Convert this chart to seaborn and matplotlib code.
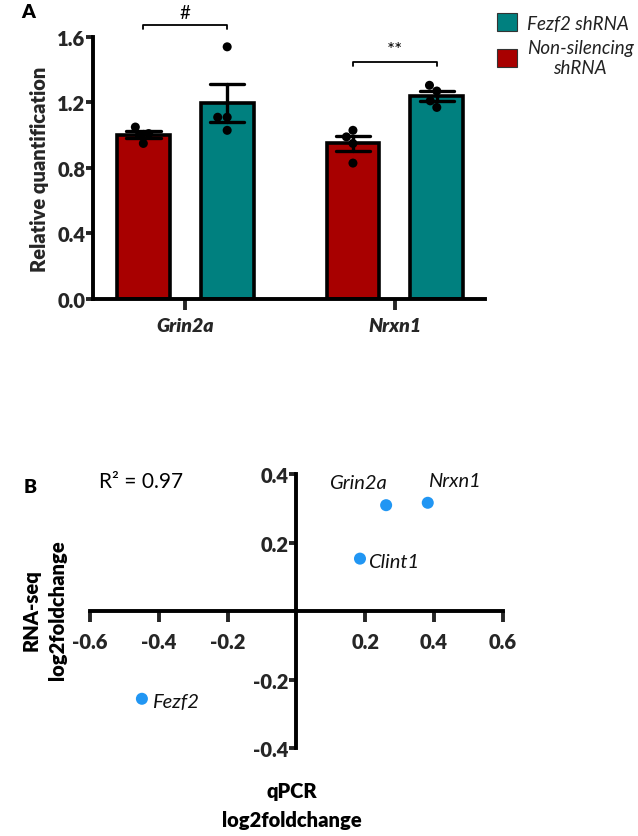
import numpy as np
import pandas as pd
import matplotlib
matplotlib.use("Agg")
import matplotlib.pyplot as plt
from matplotlib.patches import Patch
import seaborn as sns

# Panel A: qPCR relative quantification (individual replicates)
genes = ["Grin2a", "Nrxn1"]
groups = ["Non-silencing shRNA", "Fezf2 shRNA"]
grin2a_ns = [1.05, 1.01, 1.00, 0.95]
grin2a_fezf2 = [1.54, 1.11, 1.11, 1.03]
nrxn1_ns = [1.03, 0.99, 0.95, 0.83]
nrxn1_fezf2 = [1.305, 1.27, 1.21, 1.17]
significance = ["#", "**"]
bar_colors = ["#A80000", "#00807F"]

# Panel B: qPCR vs RNA-seq log2 fold change
genes_b = ["Grin2a", "Nrxn1", "Clint1", "Fezf2"]
qpcr_lfc = [0.261, 0.382, 0.185, -0.449]
rnaseq_lfc = [0.309, 0.316, 0.153, -0.256]
r_squared = 0.97

sns.set_theme(style="white")
plt.rcParams["font.family"] = ["Lato", "DejaVu Sans"]
plt.rcParams["text.color"] = "black"

BOLD = "heavy"
TICK_FS = 14.5

rows = []
for gene, grp, vals in [("Grin2a", groups[0], grin2a_ns), ("Grin2a", groups[1], grin2a_fezf2),
                        ("Nrxn1", groups[0], nrxn1_ns), ("Nrxn1", groups[1], nrxn1_fezf2)]:
    for v in vals:
        rows.append({"gene": gene, "group": grp, "value": v})
df = pd.DataFrame(rows)

fig = plt.figure(figsize=(6.38, 8.37), dpi=100)

# ---------- Panel A ----------
axA = fig.add_axes([0.1458, 0.6416, 0.6144, 0.3130])
sns.barplot(data=df, x="gene", y="value", hue="group", order=genes, hue_order=groups,
            palette=bar_colors, errorbar="se", capsize=0.33, width=0.8, gap=0.37,
            edgecolor="black", linewidth=2.6, saturation=1,
            err_kws={"color": "black", "linewidth": 2.4}, legend=False, ax=axA)
sns.swarmplot(data=df, x="gene", y="value", hue="group", order=genes, hue_order=groups,
              dodge=True, palette=["black", "black"], size=6.5, legend=False, zorder=5, ax=axA)

axA.set_ylim(0, 1.6)
axA.set_xlim(-0.44, 1.43)
axA.set_yticks([0, 0.4, 0.8, 1.2, 1.6])
axA.set_yticklabels(["0.0", "0.4", "0.8", "1.2", "1.6"], fontweight=BOLD, fontsize=TICK_FS)
axA.set_xticks([0, 1])
axA.set_xticklabels(genes, fontweight=BOLD, fontstyle="italic", fontsize=14)
axA.set_xlabel("")
axA.set_ylabel("Relative quantification", fontweight=BOLD, fontsize=14.5, labelpad=6)
for side in ["top", "right"]:
    axA.spines[side].set_visible(False)
for side in ["left", "bottom"]:
    axA.spines[side].set_linewidth(2.8)
    axA.spines[side].set_color("black")
axA.tick_params(axis="y", direction="out", length=5, width=2.8, left=True, pad=0.5)
axA.tick_params(axis="x", direction="out", length=8, width=2.8, bottom=True, pad=5)

# significance brackets between the two bars of each gene
ns_bars = axA.containers[0]
fz_bars = axA.containers[1]
bracket_y = [1.675, 1.445]
for i, sym in enumerate(significance):
    x0 = ns_bars[i].get_x() + ns_bars[i].get_width() / 2
    x1 = fz_bars[i].get_x() + fz_bars[i].get_width() / 2
    y = bracket_y[i]
    axA.plot([x0, x0, x1, x1], [y - 0.025, y, y, y - 0.025], color="black", lw=1.3, clip_on=False)
    axA.text((x0 + x1) / 2, y + 0.025, sym, ha="center", va="bottom", fontsize=13.5, clip_on=False)

handles = [Patch(facecolor=bar_colors[1], edgecolor="#333333", linewidth=0.8),
           Patch(facecolor=bar_colors[0], edgecolor="#333333", linewidth=0.8)]
leg = fig.legend(handles, ["Fezf2 shRNA", "Non-silencing\nshRNA"], loc="upper left",
                 bbox_to_anchor=(0.752, 1.003), frameon=False, handlelength=1.1,
                 handleheight=1.1, handletextpad=0.5, labelspacing=0.4,
                 prop={"style": "italic", "size": 13.5})
for t in leg.get_texts():
    t.set_multialignment("center")
    t.set_color("#222222")

fig.text(28 / 638, 1 - 12 / 837, "A", fontweight=BOLD, fontsize=14, ha="center", va="center")

# ---------- Panel B ----------
axB = fig.add_axes([0.141, 0.105, 0.647, 0.3275])
sns.scatterplot(x=qpcr_lfc, y=rnaseq_lfc, color="#2196F3", s=75, edgecolor="none", ax=axB)
axB.set_xlim(-0.6, 0.6)
axB.set_ylim(-0.4, 0.4)
axB.spines["left"].set_position(("data", 0))
axB.spines["bottom"].set_position(("data", 0))
for side in ["top", "right"]:
    axB.spines[side].set_visible(False)
for side in ["left", "bottom"]:
    axB.spines[side].set_linewidth(2.8)
    axB.spines[side].set_color("black")
axB.set_xticks([-0.6, -0.4, -0.2, 0.2, 0.4, 0.6])
axB.set_xticklabels(["-0.6", "-0.4", "-0.2", "0.2", "0.4", "0.6"], fontweight=BOLD, fontsize=TICK_FS)
axB.set_yticks([-0.4, -0.2, 0.2, 0.4])
axB.set_yticklabels(["-0.4", "-0.2", "0.2", "0.4"], fontweight=BOLD, fontsize=TICK_FS)
axB.tick_params(axis="x", direction="out", length=8, width=2.8, bottom=True, pad=7)
axB.tick_params(axis="y", direction="out", length=5, width=2.8, left=True, pad=0.5)

label_offsets = {"Grin2a": (-20, 10, "center", "bottom"),
                 "Nrxn1": (19, 10, "center", "bottom"),
                 "Clint1": (6, -2, "left", "center"),
                 "Fezf2": (7, -2, "left", "center")}
for g, x, y in zip(genes_b, qpcr_lfc, rnaseq_lfc):
    dx, dy, ha, va = label_offsets[g]
    axB.annotate(g, (x, y), xytext=(dx, dy), textcoords="offset points",
                 ha=ha, va=va, fontstyle="italic", fontsize=14.5, color="#111111")

axB.text(0.022, 0.975, f"R² = {r_squared:.2f}", transform=axB.transAxes,
         ha="left", va="center", fontsize=15)
fig.text(30 / 638, 1 - 488 / 837, "B", fontweight=BOLD, fontsize=14, ha="center", va="center")
fig.text(44 / 638, 1 - 610 / 837, "RNA-seq\nlog2foldchange", rotation=90, ha="center",
         va="center", fontweight=BOLD, fontsize=14.5, linespacing=1.45, multialignment="center")
fig.text(292 / 638, 1 - 806 / 837, "qPCR\nlog2foldchange", ha="center", va="center",
         fontweight=BOLD, fontsize=14.5, linespacing=1.6, multialignment="center")

fig.savefig("out.png", dpi=100)
